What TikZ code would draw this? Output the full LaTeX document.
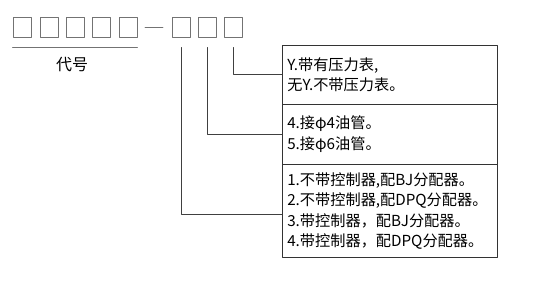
\documentclass[tikz,border=0pt]{standalone}
\usepackage{fontspec}
\newfontfamily\cjk{Noto Sans CJK SC}
\usetikzlibrary{positioning}

\begin{document}
\begin{tikzpicture}[x=1pt, y=-1pt, line cap=round, line join=round]
% Model code cells with their option boxes
\def\cellw{18pt}
\def\cellh{20pt}
\providecommand{\codeCellColor}{black!55}
\providecommand{\codeLineColor}{black!75}
\providecommand{\optBoxColor}{black!80}
\tikzset{
  codecell/.style={draw=\codeCellColor, line width=0.8pt, minimum width=\cellw, minimum height=\cellh, inner sep=0pt},
  optbox/.style={draw=\optBoxColor, line width=0.6pt, anchor=north west, text width=205pt, minimum height=#1, inner xsep=5pt, inner ysep=0pt, align=left, font=\cjk\fontsize{15.2}{20.5}\selectfont},
  lead/.style={draw=\codeLineColor, line width=0.6pt}
}
\useasboundingbox (0,0) rectangle (554,296);
% Code cells
\node[codecell] (c1) at (22,27) {};
\node[codecell] (c2) at (49,27) {};
\node[codecell] (c3) at (75,27) {};
\node[codecell] (c4) at (101.5,27) {};
\node[codecell] (c5) at (128,27) {};
\draw[draw=\codeCellColor, line width=0.8pt] (145,27) -- (163,27);
\node[codecell] (d1) at (181,27) {};
\node[codecell] (d2) at (207,27) {};
\node[codecell] (d3) at (233,27) {};
% Code underline and label
\draw[draw=\codeCellColor, line width=0.8pt] ([yshift=-10pt]c1.south west) -- ([yshift=-10pt]c5.south east);
\node[font=\cjk\fontsize{16}{18}\selectfont] (code) at (72,65) {代号};
% Option boxes
\node[optbox=59pt] (press) at (282,45) {Y.带有压力表,\\无Y.不带压力表。};
\node[optbox=60pt] (pipe) at (282,104) {4.接φ4油管。\\5.接φ6油管。};
\node[optbox=93pt] (ctrl) at (282,164) {1.不带控制器,配BJ分配器。\\2.不带控制器,配DPQ分配器。\\3.带控制器，配BJ分配器。\\4.带控制器，配DPQ分配器。};
% Leads
\draw[lead] ([yshift=-10pt]d3.south) |- (press.west);
\draw[lead] ([yshift=-10pt]d2.south) |- (pipe.west);
\draw[lead] ([yshift=-10pt]d1.south) |- ([yshift=-3.5pt]ctrl.west);
\end{tikzpicture}
\end{document}
